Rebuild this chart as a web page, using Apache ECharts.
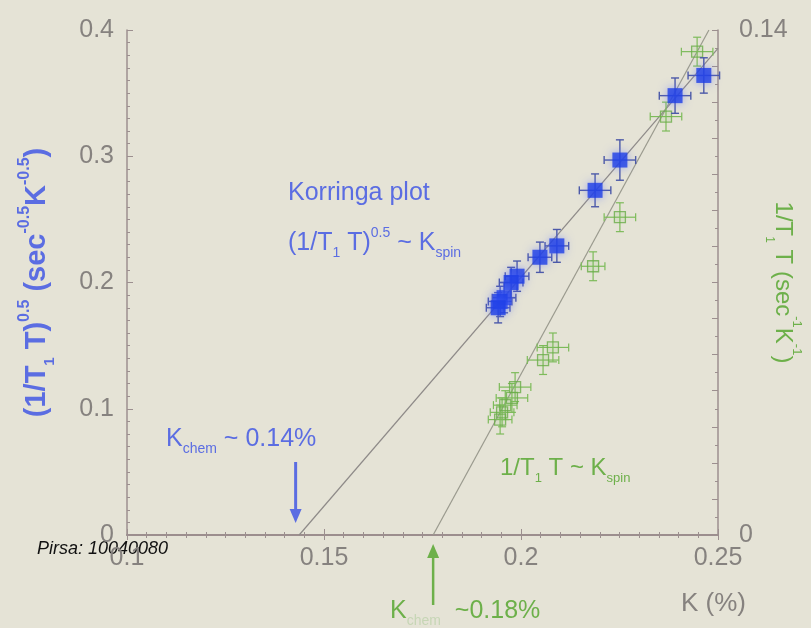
<!DOCTYPE html>
<html>
<head>
<meta charset="utf-8">
<script src="https://cdn.jsdelivr.net/npm/echarts@6/dist/echarts.min.js"></script>
<style>
  html, body { margin: 0; padding: 0; background: #e5e3d6; }
  #chart { width: 811px; height: 628px; }
</style>
</head>
<body>
<div id="chart"></div>
<script>
// Knight shift K (%) and (1/T1T)^0.5 for the Korringa plot (left axis)
const blueK    = [0.2464, 0.2391, 0.2251, 0.2188, 0.2091, 0.2048, 0.1990, 0.1975, 0.1957, 0.1947, 0.1942];
const blueV    = [0.364, 0.348, 0.297, 0.273, 0.229, 0.220, 0.205, 0.200, 0.188, 0.185, 0.180];
const blueKErr = [0.004, 0.004, 0.004, 0.004, 0.003, 0.003, 0.003, 0.003, 0.003, 0.003, 0.003];
const blueVErr = [0.014, 0.014, 0.016, 0.013, 0.013, 0.012, 0.012, 0.012, 0.012, 0.012, 0.012];

// Knight shift K (%) and 1/T1T (right axis)
const greenK    = [0.2447, 0.2368, 0.2251, 0.2183, 0.2081, 0.2056, 0.1985, 0.1977, 0.1960, 0.1952, 0.1947];
const greenV    = [0.1340, 0.1160, 0.0881, 0.0745, 0.0520, 0.0485, 0.0410, 0.0380, 0.0360, 0.0340, 0.0320];
const greenKErr = [0.004, 0.004, 0.004, 0.003, 0.004, 0.004, 0.004, 0.004, 0.003, 0.003, 0.003];
const greenVErr = [0.004, 0.004, 0.004, 0.004, 0.004, 0.004, 0.004, 0.004, 0.004, 0.004, 0.004];

// Linear fits: endpoints [K, value]
const korringaFit = [[0.1437, 0], [0.25, 0.3855]];
const spinFit     = [[0.1777, 0], [0.2477, 0.14]];

// Chemical shift estimates marked by arrows
const kChemBlue = 0.1428;
const kChemGreen = 0.1777;

const xTicks = [0.1, 0.15, 0.2, 0.25];
const leftTicks = [0, 0.1, 0.2, 0.3, 0.4];
const rightTicks = [0, 0.14];

const BLUE = '#5b6de2';
const GREEN = '#6db04a';
const GREY = '#86827f';
const AXIS = '#9c8f8f';
const FONT = 'Liberation Sans, Arial, sans-serif';

function zip(a, b, c, d) { return a.map((v, i) => [v, b[i], c[i], d[i]]); }

function errorBars(color, width) {
  return function (params, api) {
    const x = api.value(0), y = api.value(1), dx = api.value(2), dy = api.value(3);
    const l = api.coord([x - dx, y]), r = api.coord([x + dx, y]);
    const t = api.coord([x, y + dy]), b = api.coord([x, y - dy]);
    const cap = 4;
    const st = { stroke: color, lineWidth: width };
    return {
      type: 'group',
      children: [
        { type: 'line', shape: { x1: l[0], y1: l[1], x2: r[0], y2: r[1] }, style: st },
        { type: 'line', shape: { x1: t[0], y1: t[1], x2: b[0], y2: b[1] }, style: st },
        { type: 'line', shape: { x1: l[0], y1: l[1] - cap, x2: l[0], y2: l[1] + cap }, style: st },
        { type: 'line', shape: { x1: r[0], y1: r[1] - cap, x2: r[0], y2: r[1] + cap }, style: st },
        { type: 'line', shape: { x1: t[0] - cap, y1: t[1], x2: t[0] + cap, y2: t[1] }, style: st },
        { type: 'line', shape: { x1: b[0] - cap, y1: b[1], x2: b[0] + cap, y2: b[1] }, style: st }
      ]
    };
  };
}

function near(v, list) { return list.some(t => Math.abs(v - t) < 1e-9); }

const labelFont = { color: GREY, fontSize: 25, fontFamily: FONT };

function axisRich(color, size, weight) {
  const base = { color: color, fontFamily: FONT, fontWeight: weight, lineHeight: 40 };
  return {
    b: Object.assign({ fontSize: size, verticalAlign: 'middle' }, base),
    sub: Object.assign({ fontSize: Math.round(size * 0.5), verticalAlign: 'bottom' }, base),
    sup: Object.assign({ fontSize: Math.round(size * 0.55), verticalAlign: 'top' }, base)
  };
}

const chart = echarts.init(document.getElementById('chart'), null, { renderer: 'canvas' });

const option = {
  backgroundColor: '#e5e3d6',
  animation: false,
  grid: { left: 127, right: 93, top: 30, bottom: 93, containLabel: false, outerBoundsMode: 'none' },
  xAxis: [
    {
      type: 'value', min: 0.1, max: 0.25, interval: 0.05, position: 'bottom',
      axisLine: { lineStyle: { color: AXIS, width: 2 } },
      axisTick: { inside: true, length: 6, lineStyle: { color: AXIS } },
      minorTick: { show: true, splitNumber: 10, length: 3, lineStyle: { color: AXIS } },
      splitLine: { show: false },
      axisLabel: Object.assign({ margin: 11, formatter: v => near(v, xTicks) ? String(+v.toFixed(2)) : '' }, labelFont)
    },
    {
      type: 'value', min: 0.1, max: 0.25, interval: 0.05, position: 'top',
      axisLine: { lineStyle: { color: AXIS, width: 1.5 } },
      axisTick: { inside: true, length: 5, lineStyle: { color: AXIS } },
      minorTick: { show: true, splitNumber: 10, length: 3, lineStyle: { color: AXIS } },
      splitLine: { show: false },
      axisLabel: { show: false }
    }
  ],
  yAxis: [
    {
      type: 'value', min: 0, max: 0.4, interval: 0.1, position: 'left',
      axisLine: { show: true, lineStyle: { color: AXIS, width: 1.5 } },
      axisTick: { inside: true, length: 6, lineStyle: { color: AXIS } },
      minorTick: { show: true, splitNumber: 10, length: 3, lineStyle: { color: AXIS } },
      splitLine: { show: false },
      axisLabel: Object.assign({ margin: 13, formatter: v => near(v, leftTicks) ? String(+v.toFixed(1)) : '' }, labelFont),
      name: '{b|(1/T}{sub|1}{b| T)}{sup|0.5}{b| (sec}{sup|-0.5}{b|K}{sup|-0.5}{b|)}',
      nameLocation: 'middle', nameGap: 70, nameRotate: 90, nameMoveOverlap: false,
      nameTextStyle: { rich: axisRich(BLUE, 29, 'bold') }
    },
    {
      type: 'value', min: 0, max: 0.14, interval: 0.01, position: 'right',
      axisLine: { show: true, lineStyle: { color: AXIS, width: 1.5 } },
      axisTick: { inside: true, length: 6, lineStyle: { color: AXIS } },
      minorTick: { show: true, splitNumber: 2, length: 3, lineStyle: { color: AXIS } },
      splitLine: { show: false },
      axisLabel: Object.assign({ margin: 21, formatter: v => near(v, rightTicks) ? String(+v.toFixed(2)) : '' }, labelFont),
      name: '{b|1/T}{sub|1}{b| T (sec}{sup|-1}{b|K}{sup|-1}{b|)}',
      nameLocation: 'middle', nameGap: 45, nameRotate: -90, nameMoveOverlap: false,
      nameTextStyle: { rich: axisRich(GREEN, 24, 'normal') }
    }
  ],
  series: [
    {
      name: 'korringa fit', type: 'line', xAxisIndex: 0, yAxisIndex: 0,
      data: korringaFit, showSymbol: false, symbol: 'none',
      lineStyle: { color: '#8e8a88', width: 1.2 }, z: 1, silent: true
    },
    {
      name: 'spin fit', type: 'line', xAxisIndex: 0, yAxisIndex: 1,
      data: spinFit, showSymbol: false, symbol: 'none',
      lineStyle: { color: '#9a9a8e', width: 1.2 }, z: 1, silent: true
    },
    {
      name: 'green err', type: 'custom', xAxisIndex: 0, yAxisIndex: 1,
      data: zip(greenK, greenV, greenKErr, greenVErr),
      renderItem: errorBars('#7dbb5a', 1.2), z: 2, silent: true
    },
    {
      name: '1/T1T', type: 'scatter', xAxisIndex: 0, yAxisIndex: 1,
      data: greenK.map((k, i) => [k, greenV[i]]),
      symbol: 'rect', symbolSize: 11,
      itemStyle: { color: 'rgba(120,190,90,0.15)', borderColor: '#6aad48', borderWidth: 1.3 },
      z: 3
    },
    {
      name: 'blue err', type: 'custom', xAxisIndex: 0, yAxisIndex: 0,
      data: zip(blueK, blueV, blueKErr, blueVErr),
      renderItem: errorBars('#4d5aa8', 1.4), z: 4, silent: true
    },
    {
      name: '(1/T1T)^0.5', type: 'scatter', xAxisIndex: 0, yAxisIndex: 0,
      data: blueK.map((k, i) => [k, blueV[i]]),
      symbol: 'rect', symbolSize: 15,
      itemStyle: { color: '#1e3fe6', shadowBlur: 10, shadowColor: 'rgba(90,110,255,0.7)' },
      z: 5
    }
  ]
};

chart.setOption(option);

// Annotation arrows and labels
const aBlue = chart.convertToPixel({ xAxisIndex: 0, yAxisIndex: 0 }, [kChemBlue, 0]);
const aGreen = chart.convertToPixel({ xAxisIndex: 0, yAxisIndex: 0 }, [kChemGreen, 0]);

function richStyle(color, size) {
  return {
    b: { fill: color, fontSize: size, fontFamily: FONT, lineHeight: 34, verticalAlign: 'middle' },
    sub: { fill: color, fontSize: Math.round(size * 0.55), fontFamily: FONT, lineHeight: 34, verticalAlign: 'bottom' },
    sup: { fill: color, fontSize: Math.round(size * 0.55), fontFamily: FONT, lineHeight: 34, verticalAlign: 'top' },
    faint: { fill: 'rgba(140,190,120,0.35)', fontSize: Math.round(size * 0.55), fontFamily: FONT, lineHeight: 34, verticalAlign: 'bottom' }
  };
}

chart.setOption({
  graphic: [
    {
      type: 'text', left: 288, top: 181,
      style: { text: 'Korringa plot', fill: BLUE, fontSize: 25, fontFamily: FONT }
    },
    {
      type: 'text', left: 288, top: 226,
      style: { text: '{b|(1/T}{sub|1}{b| T)}{sup|0.5}{b| ~ K}{sub|spin}', rich: richStyle(BLUE, 25) }
    },
    {
      type: 'text', left: 166, top: 427,
      style: { text: '{b|K}{sub|chem}{b| ~ 0.14%}', rich: richStyle(BLUE, 25) }
    },
    {
      type: 'text', left: 500, top: 456,
      style: { text: '{b|1/T}{sub|1}{b| T ~ K}{sub|spin}', rich: richStyle(GREEN, 24) }
    },
    {
      type: 'text', left: 390, top: 599,
      style: { text: '{b|K}{faint|chem}{b|  ~0.18%}', rich: richStyle(GREEN, 25) }
    },
    {
      type: 'text', left: 681, top: 591,
      style: { text: 'K (%)', fill: GREY, fontSize: 26, fontFamily: FONT }
    },
    {
      type: 'text', left: 37, top: 540,
      style: { text: 'Pirsa: 10040080', fill: '#111', fontSize: 18, fontStyle: 'italic', fontFamily: FONT }
    },
    // arrow down to the Korringa intercept
    {
      type: 'line', shape: { x1: aBlue[0], y1: aBlue[1] - 73, x2: aBlue[0], y2: aBlue[1] - 24 },
      style: { stroke: BLUE, lineWidth: 3 }
    },
    {
      type: 'polygon',
      shape: { points: [[aBlue[0] - 6, aBlue[1] - 26], [aBlue[0] + 6, aBlue[1] - 26], [aBlue[0], aBlue[1] - 12]] },
      style: { fill: BLUE }
    },
    // arrow up to the spin-lattice intercept
    {
      type: 'line', shape: { x1: aGreen[0], y1: aGreen[1] + 70, x2: aGreen[0], y2: aGreen[1] + 20 },
      style: { stroke: GREEN, lineWidth: 2.5 }
    },
    {
      type: 'polygon',
      shape: { points: [[aGreen[0] - 6, aGreen[1] + 23], [aGreen[0] + 6, aGreen[1] + 23], [aGreen[0], aGreen[1] + 9]] },
      style: { fill: GREEN }
    }
  ]
});
</script>
</body>
</html>
